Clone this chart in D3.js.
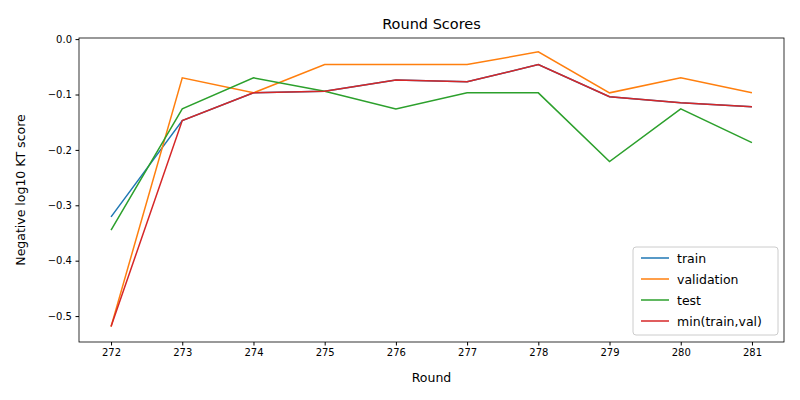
<!DOCTYPE html>
<html><head><meta charset="utf-8">
<script src="https://cdn.jsdelivr.net/npm/d3@7"></script>
<style>body{margin:0;background:#fff}text{font-family:"DejaVu Sans",sans-serif}</style>
</head><body><svg id="c" width="800" height="400"></svg>
<script>
const rounds=[272,273,274,275,276,277,278,279,280,281];
const train=[-0.321,-0.147,-0.097,-0.094,-0.074,-0.077,-0.046,-0.104,-0.115,-0.122];
const validation=[-0.519,-0.070,-0.097,-0.046,-0.046,-0.046,-0.023,-0.097,-0.070,-0.097];
const test=[-0.345,-0.126,-0.070,-0.094,-0.126,-0.097,-0.097,-0.221,-0.126,-0.187];
const minTV=[-0.519,-0.147,-0.097,-0.094,-0.074,-0.077,-0.046,-0.104,-0.115,-0.122];
const yTicks=[-0.5,-0.4,-0.3,-0.2,-0.1,0.0];
const series=[["train",train,"#1f77b4"],["validation",validation,"#ff7f0e"],["test",test,"#2ca02c"],["min(train,val)",minTV,"#d62728"]];
const L=79,R=784,T=38,B=342;
const svg=d3.select("#c");
const x=d3.scaleLinear().domain([271.55,281.45]).range([L,R]);
const y=d3.scaleLinear().domain([-0.5468,0.002]).range([B,T]);
svg.append("g").attr("transform",`translate(0,${B})`).call(d3.axisBottom(x).tickValues(rounds).tickFormat(d3.format("d")).tickSizeOuter(0).tickSize(3.5).tickPadding(3.5)).attr("font-size",10);
svg.append("g").attr("transform",`translate(${L},0)`).call(d3.axisLeft(y).tickValues(yTicks).tickFormat(d=>d3.format(".1f")(d).replace("−","−")).tickSizeOuter(0).tickSize(3.5).tickPadding(3.5)).attr("font-size",10);
svg.selectAll(".domain").remove();
svg.append("rect").attr("x",L).attr("y",T).attr("width",R-L).attr("height",B-T).attr("fill","none").attr("stroke","#000").attr("stroke-width",0.8);
const line=d3.line().x((d,i)=>x(rounds[i])).y(d=>y(d));
series.forEach(s=>svg.append("path").datum(s[1]).attr("d",line).attr("fill","none").attr("stroke",s[2]).attr("stroke-width",1.5));
svg.append("text").attr("x",(L+R)/2).attr("y",29).attr("text-anchor","middle").attr("font-size",14.5).text("Round Scores");
svg.append("text").attr("x",(L+R)/2).attr("y",382).attr("text-anchor","middle").attr("font-size",12.5).text("Round");
svg.append("text").attr("transform",`translate(25,${(T+B)/2}) rotate(-90)`).attr("text-anchor","middle").attr("font-size",12.5).text("Negative log10 KT score");
const lg=svg.append("g").attr("transform","translate(633,247)");
lg.append("rect").attr("width",145).attr("height",88).attr("rx",3).attr("fill","#fff").attr("fill-opacity",0.8).attr("stroke","#ccc");
series.forEach((s,i)=>{const yy=11+i*21;
lg.append("line").attr("x1",8).attr("x2",36).attr("y1",yy).attr("y2",yy).attr("stroke",s[2]).attr("stroke-width",1.5);
lg.append("text").attr("x",44).attr("y",yy+4.5).attr("font-size",12.5).text(s[0]);});
</script></body></html>
